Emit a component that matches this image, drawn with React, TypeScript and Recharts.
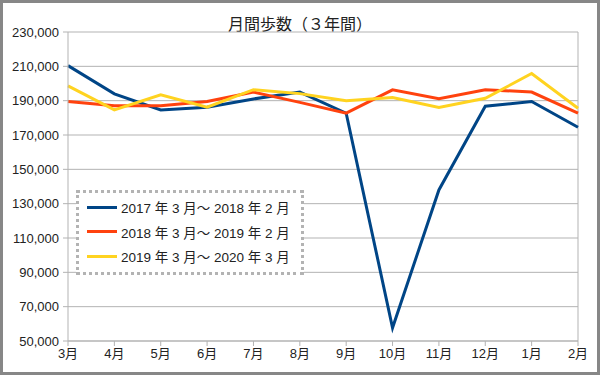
import { CartesianGrid, Legend, Line, LineChart, ReferenceLine, XAxis, YAxis } from "recharts";

const months = ["3月", "4月", "5月", "6月", "7月", "8月", "9月", "10月", "11月", "12月", "1月", "2月"];
const steps2017 = [210400, 194000, 184600, 186200, 191000, 195000, 182700, 57700, 138000, 186800, 189500, 174500];
const steps2018 = [189500, 187000, 187000, 189500, 195000, 189000, 182700, 196300, 191200, 196400, 195000, 182700];
const steps2019 = [198600, 184600, 193400, 186200, 196400, 194100, 189900, 191800, 186000, 191400, 205800, 185600];
const yTicks = [50000, 70000, 90000, 110000, 130000, 150000, 170000, 190000, 210000, 230000];

const seriesNames = ["2017 年 3 月～ 2018 年 2 月", "2018 年 3 月～ 2019 年 2 月", "2019 年 3 月～ 2020 年 3 月"];
const colors = ["#004586", "#ff420e", "#ffd320"];

const data = months.map((m, i) => ({
  month: m,
  a: steps2017[i],
  b: steps2018[i],
  c: steps2019[i],
}));

const font = '"Liberation Sans", "Noto Sans CJK JP", sans-serif';
const gridColor = "#b3b3b3";

function LegendBox() {
  return (
    <div
      style={{
        border: "3px dotted #b3b3b3",
        padding: "2px 8px 3px 8px",
        width: 206,
        background: "#fff",
      }}
    >
      {seriesNames.map((name, i) => (
        <div key={name} style={{ display: "flex", alignItems: "center", height: 24.5 }}>
          <span style={{ width: 30, height: 3, background: colors[i], marginRight: 4 }} />
          <span style={{ fontSize: 13.5, color: "#222", whiteSpace: "nowrap" }}>{name}</span>
        </div>
      ))}
    </div>
  );
}

export default function App() {
  return (
    <div
      style={{
        position: "absolute",
        left: 0,
        top: 0,
        width: 600,
        height: 375,
        boxSizing: "border-box",
        border: "3px solid #878787",
        background: "#fff",
        fontFamily: font,
      }}
    >
      <div
        style={{
          position: "absolute",
          top: 8,
          left: 0,
          width: 594,
          textAlign: "center",
          fontSize: 16,
          color: "#222",
        }}
      >
        月間歩数（３年間）
      </div>
      <LineChart width={594} height={369} data={data} margin={{ top: 29, right: 19, bottom: 0, left: 0 }}>
        <CartesianGrid vertical={false} stroke={gridColor} />
        <XAxis
          dataKey="month"
          height={31}
          tickSize={5}
          tickMargin={3}
          stroke={gridColor}
          tick={{ fill: "#222", fontSize: 13, fontFamily: font }}
          interval={0}
        />
        <YAxis
          width={65}
          domain={[50000, 230000]}
          ticks={yTicks}
          tickSize={5}
          tickMargin={4}
          stroke={gridColor}
          tick={{ fill: "#222", fontSize: 13, fontFamily: font }}
          tickFormatter={(v: number) => v.toLocaleString("en-US")}
        />
        <ReferenceLine x="2月" stroke={gridColor} />
        <Line dataKey="a" name={seriesNames[0]} stroke={colors[0]} strokeWidth={3} dot={false} isAnimationActive={false} />
        <Line dataKey="b" name={seriesNames[1]} stroke={colors[1]} strokeWidth={3} dot={false} isAnimationActive={false} />
        <Line dataKey="c" name={seriesNames[2]} stroke={colors[2]} strokeWidth={3} dot={false} isAnimationActive={false} />
        <Legend
          layout="horizontal"
          verticalAlign="middle"
          align="center"
          content={() => <LegendBox />}
          wrapperStyle={{ position: "absolute", left: 73, top: 187, width: "auto" }}
        />
      </LineChart>
    </div>
  );
}
